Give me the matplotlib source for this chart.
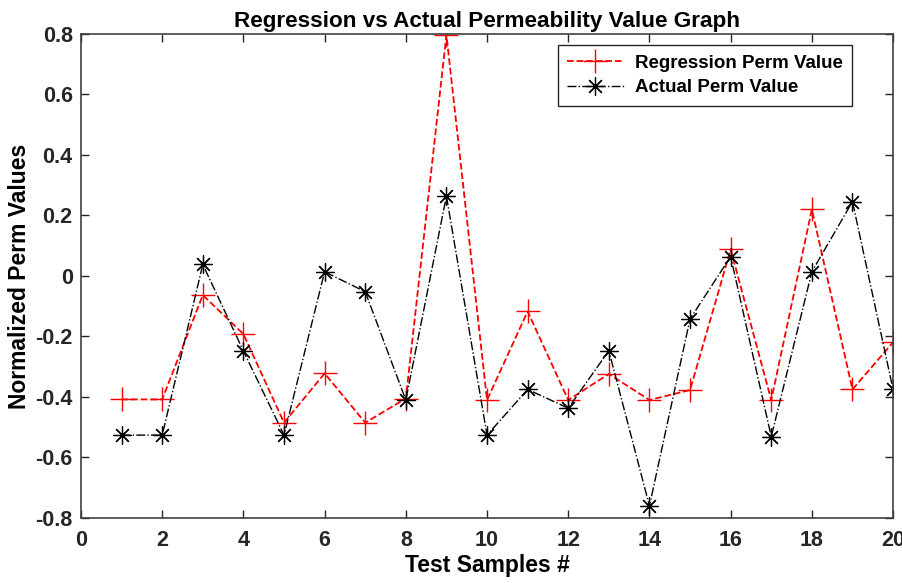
import numpy as np
import matplotlib.pyplot as plt

plt.rcParams['font.family'] = ['Liberation Sans', 'DejaVu Sans']
plt.rcParams['font.weight'] = 'bold'

samples = np.arange(1, 21)
regression = [-0.408, -0.408, -0.063, -0.192, -0.485, -0.322, -0.485, -0.405, 0.797, -0.41,
              -0.117, -0.41, -0.324, -0.41, -0.377, 0.088, -0.41, 0.22, -0.375, -0.219]
actual = [-0.526, -0.526, 0.038, -0.248, -0.526, 0.014, -0.052, -0.41, 0.264, -0.526,
          -0.375, -0.437, -0.247, -0.760, -0.142, 0.064, -0.531, 0.014, 0.246, -0.375]

fig = plt.figure(figsize=(9.03, 5.83), dpi=100)
ax = fig.add_axes([0.0897, 0.1115, 0.8993, 0.8302])

# matlab style asterisk = plus + cross
ax.plot(samples, regression, color='red', linestyle='--', linewidth=1.3,
        marker='+', markersize=17, markeredgewidth=1.0, label='Regression Perm Value')
ax.plot(samples, actual, color='black', linestyle='-.', linewidth=1.0,
        marker=(8, 2, 0), markersize=13, markeredgewidth=0.9, label='Actual Perm Value')

ax.set_xlim(0, 20)
ax.set_ylim(-0.8, 0.8)
ax.set_xticks(np.arange(0, 21, 2))
ax.set_yticks(np.arange(-0.8, 0.81, 0.2))
ax.set_yticklabels(['-0.8', '-0.6', '-0.4', '-0.2', '0', '0.2', '0.4', '0.6', '0.8'])
ax.tick_params(direction='in', top=True, right=True, length=6, width=1,
               labelsize=15.5, colors='#262626', pad=6)
ax.tick_params(axis='x', pad=9)
for lab in ax.get_xticklabels() + ax.get_yticklabels():
    lab.set_fontweight('bold')
for s in ax.spines.values():
    s.set_color('#404040')
    s.set_linewidth(1.2)

ax.set_title('Regression vs Actual Permeability Value Graph', fontsize=16.2,
             fontweight='bold', pad=5)
ax.set_xlabel('Test Samples #', fontsize=16.5, fontweight='bold', labelpad=2)
ax.set_ylabel('Normalized Perm Values', fontsize=16.5, fontweight='bold', labelpad=3)

leg = ax.legend(loc='upper right', bbox_to_anchor=(0.9495, 0.977), borderaxespad=0,
                fontsize=13.5, fancybox=False, framealpha=1, handlelength=3.0,
                borderpad=0.5, labelspacing=0.4, handletextpad=0.6)
leg.get_frame().set_edgecolor('#262626')
leg.get_frame().set_linewidth(1.0)
for t in leg.get_texts():
    t.set_fontweight('bold')

fig.savefig('out.png', dpi=100)
